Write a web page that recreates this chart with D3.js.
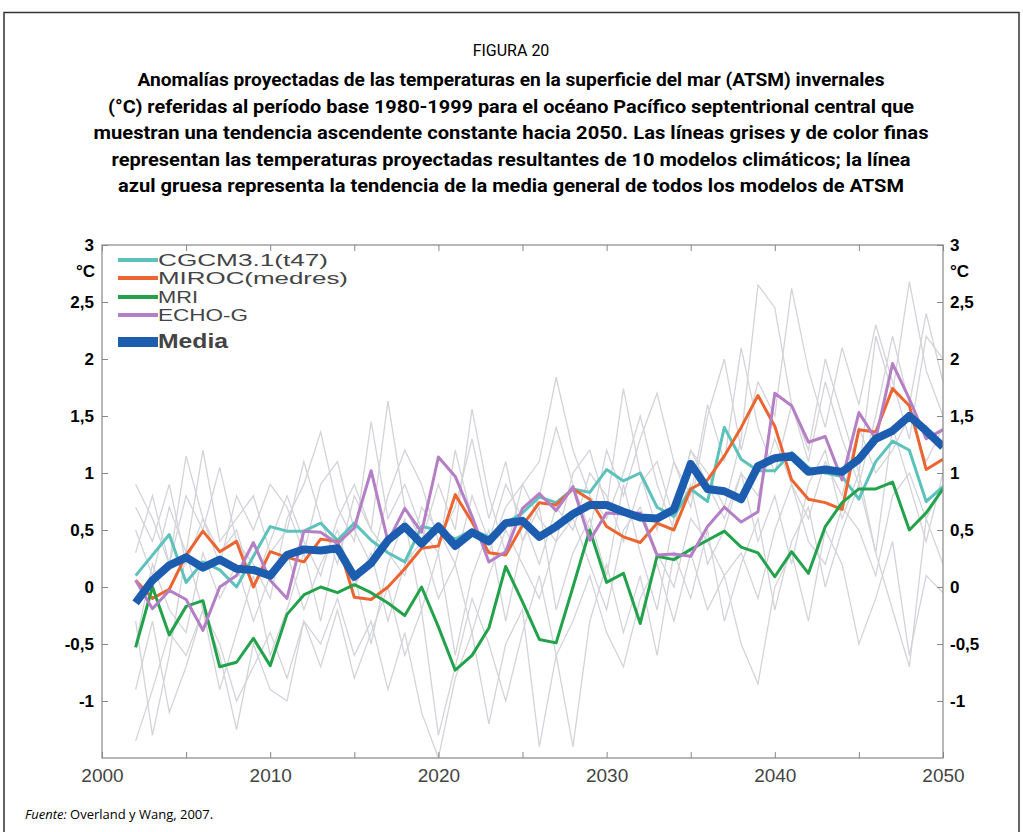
<!DOCTYPE html>
<html>
<head>
<meta charset="utf-8">
<script src="https://cdn.jsdelivr.net/npm/d3@7"></script>
<style>
  body { margin: 0; background: #fff; }
  svg { display: block; }
</style>
</head>
<body>
<svg id="chart" width="1023" height="832"></svg>
<script>
// years 2002..2050, one value per year
const years = d3.range(2002, 2051);

const media = [-0.14, 0.06, 0.19, 0.26, 0.17, 0.24, 0.16, 0.15, 0.10, 0.28,
  0.33, 0.32, 0.34, 0.09, 0.21, 0.41, 0.53, 0.38, 0.53, 0.36,
  0.48, 0.40, 0.56, 0.58, 0.44, 0.53, 0.64, 0.72, 0.72, 0.66,
  0.61, 0.60, 0.68, 1.08, 0.86, 0.84, 0.77, 1.06, 1.13, 1.15,
  1.01, 1.03, 1.01, 1.12, 1.30, 1.37, 1.50, 1.37, 1.23];

const cgcm = [0.10, 0.28, 0.46, 0.04, 0.22, 0.15, 0.0, 0.27, 0.53, 0.49,
  0.49, 0.56, 0.41, 0.56, 0.41, 0.30, 0.22, 0.53, 0.50, 0.42,
  0.50, 0.44, 0.56, 0.65, 0.79, 0.74, 0.86, 0.83, 1.03, 0.93,
  1.0, 0.70, 0.62, 0.86, 0.75, 1.40, 1.12, 1.02, 1.02, 1.18,
  1.05, 1.0, 0.97, 0.77, 1.1, 1.28, 1.2, 0.75, 0.88];

const miroc = [0.06, -0.10, -0.02, 0.28, 0.49, 0.31, 0.40, 0.0, 0.31, 0.26,
  0.22, 0.42, 0.40, -0.09, -0.11, 0.0, 0.16, 0.34, 0.36, 0.81,
  0.57, 0.30, 0.28, 0.54, 0.74, 0.72, 0.86, 0.77, 0.53, 0.44,
  0.39, 0.56, 0.50, 0.86, 0.94, 1.15, 1.40, 1.68, 1.41, 0.94,
  0.77, 0.74, 0.68, 1.38, 1.36, 1.74, 1.59, 1.03, 1.12];

const mri = [-0.53, 0.0, -0.42, -0.17, -0.12, -0.70, -0.66, -0.45, -0.69, -0.24,
  -0.07, 0.0, -0.05, 0.02, -0.05, -0.14, -0.25, 0.0, -0.35, -0.73,
  -0.60, -0.36, 0.18, -0.13, -0.46, -0.49, 0.0, 0.50, 0.04, 0.12,
  -0.32, 0.27, 0.24, 0.33, 0.41, 0.49, 0.35, 0.30, 0.09, 0.31,
  0.12, 0.53, 0.74, 0.86, 0.86, 0.92, 0.50, 0.65, 0.86];

const echog = [0.06, -0.19, -0.03, -0.11, -0.38, 0.0, 0.10, 0.39, 0.06, -0.10,
  0.49, 0.48, 0.38, 0.52, 1.02, 0.40, 0.69, 0.48, 1.14, 0.97,
  0.62, 0.22, 0.31, 0.69, 0.82, 0.67, 0.88, 0.41, 0.65, 0.64,
  0.65, 0.28, 0.29, 0.27, 0.53, 0.70, 0.57, 0.66, 1.70, 1.59,
  1.27, 1.32, 0.94, 1.53, 1.30, 1.96, 1.65, 1.30, 1.38];

// other models (thin grey lines)
const grey1 = [0.9, 0.6, 0.2, 0.8, 0.5, 1.05, 0.4, 0.2, -0.1, 0.6,
  0.9, 1.36, 0.7, 0.4, 1.45, 0.6, 0.9, 0.5, 0.3, 1.2,
  0.6, 0.3, 0.7, 0.9, 1.1, 1.84, 1.2, 0.8, 0.6, 1.0,
  1.5, 0.9, 0.5, 1.2, 1.0, 0.7, 1.3, 2.65, 2.45, 1.6,
  1.1, 1.8, 1.3, 0.9, 1.5, 2.2, 1.6, 2.4, 1.8];
const grey2 = [-1.35, -0.9, -0.4, -0.6, -0.2, -0.5, -1.0, -0.7, -0.4, -0.8,
  -0.3, -0.5, -0.1, -0.6, -0.3, -0.9, -0.4, -1.1, -1.5, -0.8,
  -0.4, -1.2, -0.5, -0.2, -1.4, -0.6, -0.3, 0.1, -0.4, -0.7,
  -0.1, 0.2, -0.3, 0.3, -0.2, 0.1, -0.5, -0.85, 0.0, 0.3,
  -0.3, 0.5, 0.2, -0.5, -0.1, 0.4, -0.6, 0.1, -0.05];
const grey3 = [0.5, 0.1, 0.7, 0.3, 1.2, 0.4, 0.6, 0.8, 0.3, 0.5,
  1.1, 0.6, 0.2, 0.8, 0.5, 1.63, 0.7, 0.4, 0.9, 0.5,
  1.56, 0.8, 0.3, 0.9, 0.6, 0.4, 1.0, 1.2, 0.7, 1.74,
  1.0, 0.5, 1.1, 0.8, 1.6, 1.1, 2.1, 1.4, 1.0, 1.6,
  1.2, 2.0, 1.5, 1.0, 2.2, 1.7, 2.68, 1.9, 1.5];
const grey4 = [-0.3, -1.3, -0.6, 0.3, -0.2, -0.9, -0.4, 0.1, -0.6, -0.2,
  0.3, -0.3, 0.4, 0.1, -0.5, 0.2, 0.6, -0.2, 0.3, -0.6,
  0.1, 0.5, -0.3, 0.4, 0.7, -0.2, 0.3, 0.6, 0.1, 0.9,
  0.3, -0.2, 0.6, 0.9, 0.2, 0.5, 1.0, 0.4, 0.8, 0.2,
  0.9, 1.2, 0.6, 1.0, 0.3, 1.4, 0.9, 0.4, 1.0];
const grey5 = [0.3, 0.8, 0.2, 1.15, 0.6, 0.2, 0.8, 0.5, 0.9, 0.7,
  0.3, 0.9, 1.1, 0.5, 0.2, 0.8, 1.2, 0.9, 0.4, 0.7,
  1.3, 0.6, 1.1, 0.4, 0.8, 1.4, 0.9, 0.5, 1.2, 0.8,
  1.3, 1.7, 1.1, 0.7, 1.5, 2.0, 1.2, 1.8, 1.5, 2.62,
  1.9, 1.4, 2.1, 1.6, 2.3, 1.8, 1.3, 2.2, 2.0];
const grey6 = [-0.9, -0.3, -1.1, -0.7, -0.2, -0.6, -1.25, -0.5, -0.9, -1.0,
  -0.3, -0.7, -0.2, -0.8, -0.4, 0.0, -0.6, -0.2, -1.3, -0.7,
  -0.1, -0.5, -1.0, -0.4, 0.1, -0.6, -1.4, -0.3, 0.2, -0.4,
  0.1, -0.6, 0.3, -0.1, 0.5, -0.3, 0.2, 0.6, -0.2, 0.4,
  0.7, 0.0, 0.5, 0.9, 0.3, -0.2, -0.7, 0.6, 0.2];
const grey7 = [0.7, 0.4, 0.9, 0.2, 0.6, 0.3, 0.5, 0.0, 0.4, 0.8,
  0.4, 0.1, 0.6, 0.9, 0.5, 0.3, 0.1, 0.7, 0.5, 0.2,
  0.8, 0.4, 0.9, 0.6, 0.2, 0.7, 0.5, 1.0, 0.8, 0.4,
  0.9, 1.1, 0.6, 1.2, 0.9, 0.6, 1.0, 0.8, 1.3, 0.9,
  0.6, 1.1, 0.8, 1.4, 1.0, 1.2, 1.5, 1.1, 1.4];
const grey8 = [-0.5, 0.2, -0.2, -0.4, 0.3, -0.1, 0.2, -0.3, 0.1, 0.3,
  -0.2, 0.2, 0.5, 0.0, 0.3, -0.3, 0.2, 0.4, -0.1, 0.2,
  -0.4, 0.1, 0.5, 0.2, -0.1, 0.4, 0.6, 0.2, -0.2, 0.5,
  0.7, 0.3, 0.0, 0.6, 0.4, 0.1, 0.3, -0.1, 0.5, 0.9,
  0.4, 0.2, 0.7, 0.5, 0.1, 0.8, 1.0, 0.6, 0.9];

const greys = [grey1, grey2, grey3, grey4, grey5, grey6, grey7, grey8];

const legendNames = ['CGCM3.1(t47)', 'MIROC(medres)', 'MRI', 'ECHO-G', 'Media'];
const yTicks = [-1, -0.5, 0, 0.5, 1, 1.5, 2, 2.5, 3];
const xLabels = [2000, 2010, 2020, 2030, 2040, 2050];

const titleLines = [
  'Anomalías proyectadas de las temperaturas en la superficie del mar (ATSM) invernales',
  '(°C) referidas al período base 1980-1999 para el océano Pacífico septentrional central que',
  'muestran una tendencia ascendente constante hacia 2050. Las líneas grises y de color finas',
  'representan las temperaturas proyectadas resultantes de 10 modelos climáticos; la línea',
  'azul gruesa representa la tendencia de la media general de todos los modelos de ATSM'
];
const titleWidths = [747, 806, 835, 799, 786];

const svg = d3.select('#chart');

// outer frame
svg.append('rect')
  .attr('x', 4).attr('y', 12.5)
  .attr('width', 1015).attr('height', 830)
  .attr('fill', 'none')
  .attr('stroke', '#333')
  .attr('stroke-width', 1.5);

svg.append('text')
  .attr('x', 511).attr('y', 56)
  .attr('text-anchor', 'middle')
  .style('font-family', 'Roboto, sans-serif')
  .style('font-size', '16px')
  .text('FIGURA 20');

svg.selectAll('.title')
  .data(titleLines)
  .join('text')
  .attr('class', 'title')
  .attr('x', 511)
  .attr('y', (d, i) => 86 + i * 26.5)
  .attr('text-anchor', 'middle')
  .attr('textLength', (d, i) => titleWidths[i])
  .attr('lengthAdjust', 'spacingAndGlyphs')
  .style('font-family', 'Roboto, sans-serif')
  .style('font-weight', 700)
  .style('font-size', '17.5px')
  .text(d => d);

const x = d3.scaleLinear().domain([2000, 2050]).range([102, 943]);
const y = d3.scaleLinear().domain([-1.5, 3]).range([758, 245]);

const fmt = d => String(d).replace('.', ',');

// clip to plot box
svg.append('clipPath').attr('id', 'plot')
  .append('rect')
  .attr('x', 102).attr('y', 245)
  .attr('width', 841).attr('height', 513);

const line = d3.line()
  .x((d, i) => x(years[i]))
  .y(d => y(d));

const plot = svg.append('g').attr('clip-path', 'url(#plot)');

plot.selectAll('.grey')
  .data(greys)
  .join('path')
  .attr('class', 'grey')
  .attr('d', line)
  .attr('fill', 'none')
  .attr('stroke', '#d3d4d9')
  .attr('stroke-width', 1.3);

const colored = [
  { values: cgcm, color: '#5cc2bb', w: 3 },
  { values: miroc, color: '#ec6530', w: 3 },
  { values: mri, color: '#23a24c', w: 3 },
  { values: echog, color: '#b47fc5', w: 3 },
  { values: media, color: '#1c5db0', w: 8 }
];

plot.selectAll('.model')
  .data(colored)
  .join('path')
  .attr('class', 'model')
  .attr('d', d => line(d.values))
  .attr('fill', 'none')
  .attr('stroke', d => d.color)
  .attr('stroke-width', d => d.w)
  .attr('stroke-linejoin', 'round');

// plot box
svg.append('rect')
  .attr('x', 102).attr('y', 245)
  .attr('width', 841).attr('height', 513)
  .attr('fill', 'none')
  .attr('stroke', '#888')
  .attr('stroke-width', 1.2);

const axisStyle = g => {
  g.select('.domain').remove();
  g.selectAll('.tick line').attr('stroke', '#888');
};

svg.append('g')
  .attr('transform', 'translate(102,0)')
  .call(d3.axisLeft(y).tickValues(yTicks).tickSize(-6).tickPadding(8).tickFormat(fmt))
  .call(axisStyle)
  .selectAll('text')
  .style('font-family', '"Liberation Sans", Arial, sans-serif')
  .style('font-weight', 700)
  .style('font-size', '17px')
  .attr('fill', '#000');

svg.append('g')
  .attr('transform', 'translate(943,0)')
  .call(d3.axisRight(y).tickValues(yTicks).tickSize(-6).tickPadding(7).tickFormat(fmt))
  .call(axisStyle)
  .selectAll('text')
  .style('font-family', '"Liberation Sans", Arial, sans-serif')
  .style('font-weight', 700)
  .style('font-size', '17px')
  .attr('fill', '#000');

svg.append('g')
  .attr('transform', 'translate(0,758)')
  .call(d3.axisBottom(x).tickValues(d3.range(2000, 2051, 5)).tickSize(-6).tickPadding(11)
    .tickFormat(d => xLabels.includes(d) ? d : ''))
  .call(axisStyle)
  .selectAll('text')
  .style('font-family', '"Liberation Sans", Arial, sans-serif')
  .style('font-size', '19px')
  .attr('fill', '#444');

svg.append('g')
  .attr('transform', 'translate(0,245)')
  .call(d3.axisTop(x).tickValues(d3.range(2000, 2051, 5)).tickSize(-6).tickFormat(''))
  .call(axisStyle);

// unit labels
[[95, 'end'], [950, 'start']].forEach(([ux, anchor]) => {
  svg.append('text')
    .attr('x', ux).attr('y', 277)
    .attr('text-anchor', anchor)
    .style('font-family', '"Liberation Sans", Arial, sans-serif')
    .style('font-weight', 700)
    .style('font-size', '17px')
    .text('°C');
});

// legend (glyphs stretched sideways to keep the tight line spacing)
const legendY = [260, 278, 297, 315, 342];
const legendWidths = [170, 190, 40, 90, 70];
const legend = svg.append('g');
colored.forEach((c, i) => {
  legend.append('line')
    .attr('x1', 118).attr('x2', 158)
    .attr('y1', legendY[i]).attr('y2', legendY[i])
    .attr('stroke', c.color)
    .attr('stroke-width', i === 4 ? 10 : 4);
  legend.append('text')
    .attr('x', 158).attr('y', legendY[i] + 6)
    .attr('textLength', legendWidths[i])
    .attr('lengthAdjust', 'spacingAndGlyphs')
    .style('font-family', '"Liberation Sans", Arial, sans-serif')
    .style('font-size', i === 4 ? '20px' : '16px')
    .style('font-weight', i === 4 ? 700 : 400)
    .attr('fill', '#444')
    .text(legendNames[i]);
});

// source
const src = svg.append('text')
  .attr('x', 25).attr('y', 819)
  .style('font-family', '"Open Sans", sans-serif')
  .style('font-size', '13px');
src.append('tspan').style('font-style', 'italic').text('Fuente:');
src.append('tspan').text(' Overland y Wang, 2007.');
</script>
</body>
</html>
